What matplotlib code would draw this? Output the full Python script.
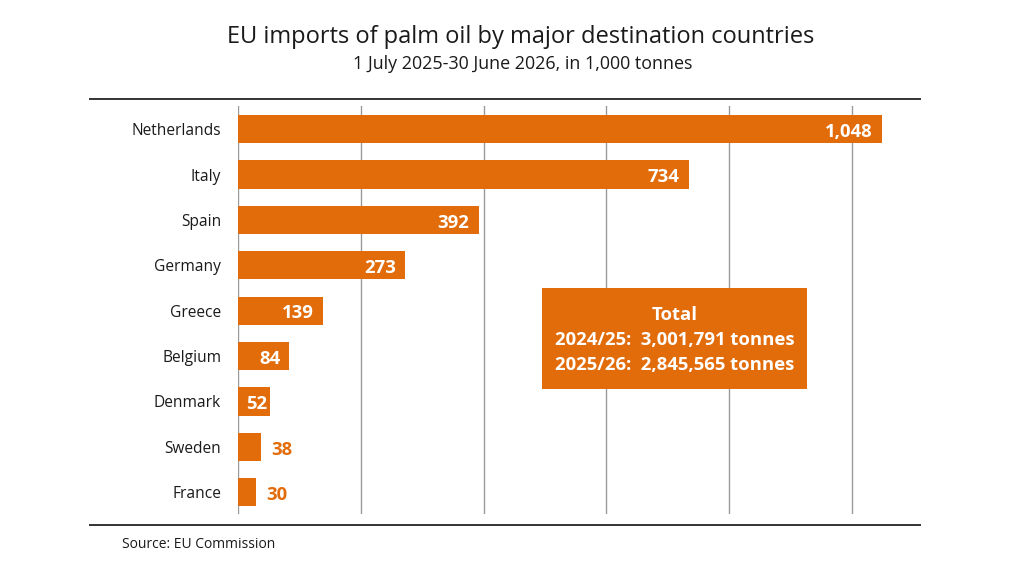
import numpy as np
import matplotlib
matplotlib.use('Agg')
import matplotlib.pyplot as plt
from matplotlib.patches import Rectangle
from matplotlib.lines import Line2D

plt.rcParams['font.family'] = ['Open Sans', 'DejaVu Sans']

countries = ['Netherlands', 'Italy', 'Spain', 'Germany', 'Greece',
             'Belgium', 'Denmark', 'Sweden', 'France']
values = [1048, 734, 392, 273, 139, 84, 52, 38, 30]
total_lines = ['Total', '2024/25:  3,001,791 tonnes', '2025/26:  2,845,565 tonnes']

orange = '#E36C0A'

fig = plt.figure(figsize=(10.10, 5.68), dpi=100)
ax = fig.add_axes([237.7 / 1010, 1 - 514 / 568, (920 - 237.7) / 1010, (514 - 106) / 568])

y = np.arange(len(countries))
ax.barh(y, values, height=0.62, color=orange, zorder=2)

ax.set_xlim(0, (920 - 237.7) / 0.6145)
ax.set_ylim(len(countries) - 0.52, -0.51)
ax.set_xticks([0, 200, 400, 600, 800, 1000])
ax.xaxis.grid(True, color='#9a9a9a', linewidth=1.0, zorder=0)
ax.tick_params(axis='x', length=0, labelbottom=False)
ax.tick_params(axis='y', length=0, pad=12)
ax.set_yticks(y)
ax.set_yticklabels(countries, fontsize=11.2, color='#1a1a1a')
for s in ax.spines.values():
    s.set_visible(False)

for yi, v in zip(y, values):
    label = f'{v:,}'
    ty = yi + 0.06
    if v >= 70:
        ax.text(v - 15, ty, label, ha='right', va='center', color='white',
                fontsize=13.3, fontweight='bold', zorder=3)
    elif v >= 50:
        # too short for right alignment, start near the bar base
        ax.text(13, ty, label, ha='left', va='center', color='white',
                fontsize=13.3, fontweight='bold', zorder=3)
    else:
        ax.text(v + 16, ty, label, ha='left', va='center', color=orange,
                fontsize=13.3, fontweight='bold', zorder=3)

# total box
box = Rectangle((542 / 1010, 1 - 389 / 568), (807 - 542) / 1010, (389 - 288) / 568,
                transform=fig.transFigure, facecolor=orange, edgecolor='none', zorder=4)
fig.patches.append(box)
for t, py in zip(total_lines, [315, 340, 365]):
    fig.text(675 / 1010, 1 - py / 568, t, ha='center', va='center', color='white',
             fontsize=13.3, fontweight='bold', zorder=5)

# top and bottom rules
for py in [99, 525]:
    fig.add_artist(Line2D([90 / 1010, 920 / 1010], [1 - py / 568, 1 - py / 568],
                          color='#333333', linewidth=1.4))

fig.text(521 / 1010, 1 - 37 / 568, 'EU imports of palm oil by major destination countries',
         ha='center', va='center', fontsize=17, color='#1a1a1a')
fig.text(523 / 1010, 1 - 64 / 568, '1 July 2025-30 June 2026, in 1,000 tonnes',
         ha='center', va='center', fontsize=12.9, color='#1a1a1a')
fig.text(122 / 1010, 1 - 544 / 568, 'Source: EU Commission',
         ha='left', va='center', fontsize=10, color='#1a1a1a')

fig.savefig('out.png', dpi=100)
